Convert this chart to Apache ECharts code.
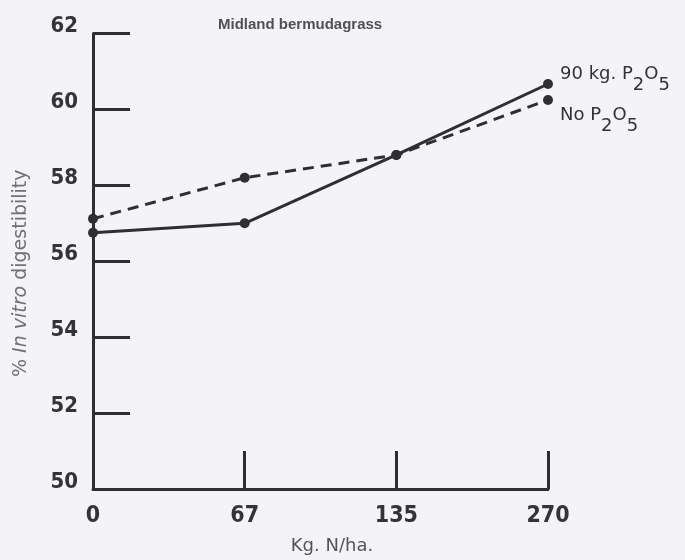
<!DOCTYPE html>
<html>
<head>
<meta charset="utf-8">
<script src="https://cdn.jsdelivr.net/npm/echarts@6/dist/echarts.min.js"></script>
<style>
html,body{margin:0;padding:0;background:#f4f4f8;}
#c{width:685px;height:560px;}
</style>
</head>
<body>
<div id="c"></div>
<script>
var categories = ['0', '67', '135', '270'];
var withP = [56.75, 57.0, 58.8, 60.67];
var noP = [57.12, 58.2, 58.8, 60.25];
var yTicks = [50, 52, 54, 56, 58, 60, 62];
var titleText = 'Midland bermudagrass';
var xName = 'Kg. N/ha.';

var chart = echarts.init(document.getElementById('c'));
var ink = '#2e2e33';
var rich = {
  a: {fontFamily: 'DejaVu Sans', fontSize: 18, color: '#333', verticalAlign: 'top', lineHeight: 19},
  s: {fontFamily: 'DejaVu Sans', fontSize: 18, color: '#333', verticalAlign: 'top', lineHeight: 19, padding: [11, 0, 0, 0]}
};
chart.setOption({
  backgroundColor: '#f4f4f8',
  animation: false,
  title: {
    text: titleText, left: 213, top: 12,
    textStyle: {fontFamily: 'Liberation Sans', fontWeight: 'bold', fontSize: 15, color: '#505055'}
  },
  grid: {left: 93, right: 137, top: 33.5, bottom: 70, containLabel: false},
  xAxis: {
    type: 'category', data: categories, boundaryGap: false,
    name: xName, nameLocation: 'middle', nameGap: 48,
    nameTextStyle: {fontFamily: 'DejaVu Sans', fontSize: 18, color: '#555', padding: [0, 0, 0, 23]},
    axisLine: {lineStyle: {color: ink, width: 3}},
    axisTick: {show: true, inside: true, length: 38, lineStyle: {color: ink, width: 3},
      interval: function (i) { return i > 0; }},
    axisLabel: {margin: 16, fontFamily: 'DejaVu Sans Condensed, DejaVu Sans', fontWeight: 'bold', fontSize: 23, color: '#333338'},
    splitLine: {show: false}
  },
  yAxis: {
    type: 'value', min: 50, max: 62, interval: 2,
    name: '{p|% }{i|In vitro}{p| digestibility}', nameLocation: 'middle', nameGap: 62, nameRotate: 90,
    nameTextStyle: {padding: [0, 24, 0, 0], rich: {
      p: {fontFamily: 'DejaVu Sans', fontSize: 19, color: '#707075'},
      i: {fontFamily: 'DejaVu Sans', fontSize: 19, color: '#707075', fontStyle: 'italic'}
    }},
    axisLine: {show: true, lineStyle: {color: ink, width: 3}},
    axisTick: {show: true, inside: true, length: 37, lineStyle: {color: ink, width: 3}},
    axisLabel: {margin: 15, verticalAlign: 'bottom', lineHeight: 14, fontFamily: 'DejaVu Sans Condensed, DejaVu Sans', fontWeight: 'bold', fontSize: 22, color: '#333338',
      formatter: function (v) { return yTicks.indexOf(v) >= 0 ? String(v) : ''; }},
    splitLine: {show: false}
  },
  series: [
    {
      name: '90 kg. P2O5', type: 'line', data: withP,
      symbol: 'circle', symbolSize: 10,
      itemStyle: {color: ink},
      lineStyle: {color: ink, width: 3, type: 'solid'},
      endLabel: {show: true, distance: 12, offset: [0, -9], formatter: '{a|90 kg. P}{s|2}{a|O}{s|5}', rich: rich}
    },
    {
      name: 'No P2O5', type: 'line', data: noP,
      symbol: 'circle', symbolSize: 10,
      itemStyle: {color: ink},
      lineStyle: {color: ink, width: 3, type: [11, 7]},
      endLabel: {show: true, distance: 12, offset: [0, 16], formatter: '{a|No P}{s|2}{a|O}{s|5}', rich: rich}
    }
  ]
});
</script>
</body>
</html>
